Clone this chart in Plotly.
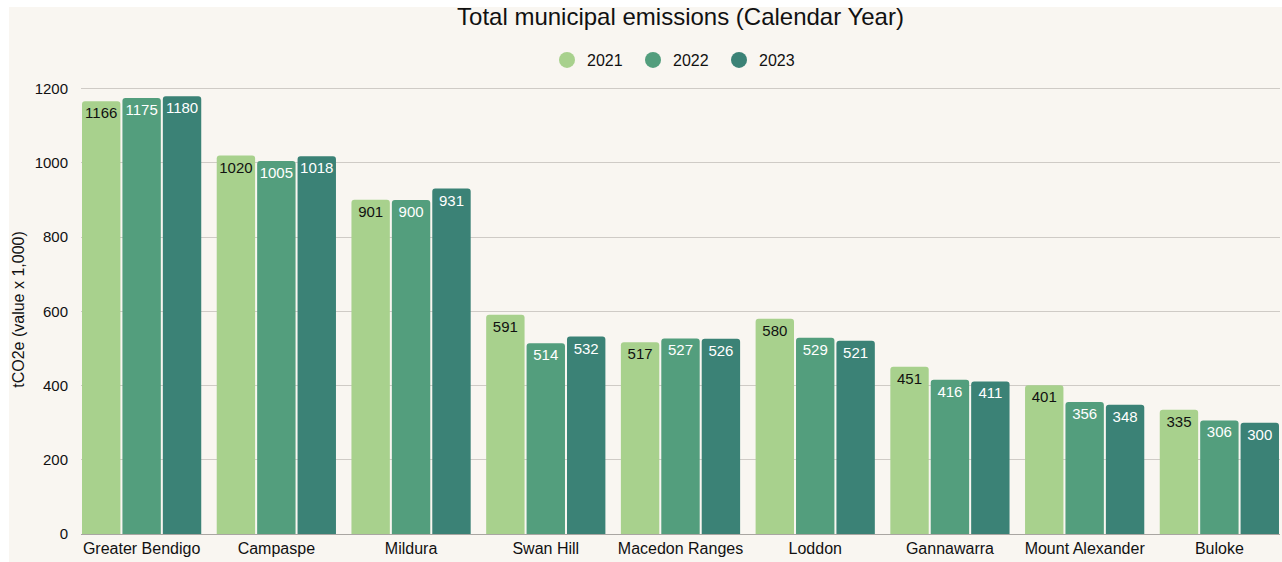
import plotly.graph_objects as go

# Municipal emissions by council area (tCO2e, thousands)
councils = ["Greater Bendigo", "Campaspe", "Mildura", "Swan Hill", "Macedon Ranges",
            "Loddon", "Gannawarra", "Mount Alexander", "Buloke"]
years = ["2021", "2022", "2023"]
emissions_2021 = [1166, 1020, 901, 591, 517, 580, 451, 401, 335]
emissions_2022 = [1175, 1005, 900, 514, 527, 529, 416, 356, 306]
emissions_2023 = [1180, 1018, 931, 532, 526, 521, 411, 348, 300]

series = [emissions_2021, emissions_2022, emissions_2023]
colors = ["#a8d18d", "#539e7d", "#3b8276"]
label_colors = ["#111111", "#ffffff", "#ffffff"]

FONT = "Arial, 'Liberation Sans', sans-serif"
CREAM = "#f9f6f1"

fig = go.Figure()
for year, values, color, tcolor in zip(years, series, colors, label_colors):
    fig.add_trace(go.Bar(
        x=councils, y=values, name=year,
        marker=dict(color=color, line=dict(width=0)),
        text=[str(v) for v in values],
        textposition="inside", insidetextanchor="end",
        textangle=0, constraintext="none",
        textfont=dict(family=FONT, size=15, color=tcolor),
        showlegend=False, hoverinfo="x+y",
    ))

# Round legend markers
for year, color in zip(years, colors):
    fig.add_trace(go.Scatter(
        x=[None], y=[None], mode="markers", name=year,
        marker=dict(symbol="circle", size=16, color=color),
        showlegend=True,
    ))

L, R, T, B = 81, 2, 85, 28
W, H = 1282, 562
pw, ph = W - L - R, H - T - B

def px_x(p):
    return (p - L) / pw

def px_y(p):
    return (H - B - p) / ph

# Cream card behind the chart
fig.add_shape(type="rect", xref="paper", yref="paper",
              x0=px_x(9), x1=px_x(1282), y0=px_y(562), y1=px_y(7),
              fillcolor=CREAM, line=dict(width=0), layer="below")

fig.update_layout(
    width=W, height=H,
    margin=dict(l=L, r=R, t=T, b=B),
    paper_bgcolor="#ffffff",
    plot_bgcolor="rgba(0,0,0,0)",
    font=dict(family=FONT, size=15, color="#111111"),
    barmode="group", bargap=0.1, bargroupgap=0.05,
    barcornerradius=3,
    title=dict(text="Total municipal emissions (Calendar Year)",
               x=0.5, xref="paper", xanchor="center",
               y=1 - 17 / H, yref="container", yanchor="middle",
               font=dict(family=FONT, size=24, color="#111111")),
    legend=dict(orientation="h", x=px_x(676), xanchor="center",
                y=px_y(60), yanchor="middle",
                font=dict(family=FONT, size=16, color="#111111"),
                bgcolor="rgba(0,0,0,0)", itemwidth=30, entrywidth=41),
    xaxis=dict(range=[-0.45, 8.45], showgrid=False, showline=False,
               ticks="", ticklabelstandoff=3,
               tickfont=dict(family=FONT, size=16, color="#111111")),
    yaxis=dict(range=[0, 1210], dtick=200, tick0=0,
               showgrid=True, gridcolor="#cfcbc6", gridwidth=1,
               zeroline=True, zerolinecolor="#a9a6a2", zerolinewidth=1,
               showline=False, ticks="", ticklabelstandoff=12,
               tickfont=dict(family=FONT, size=15, color="#111111"),
               title=dict(text="tCO2e (value x 1,000)", standoff=6,
                          font=dict(family=FONT, size=16, color="#111111"))),
)

fig.write_html("out.html")
